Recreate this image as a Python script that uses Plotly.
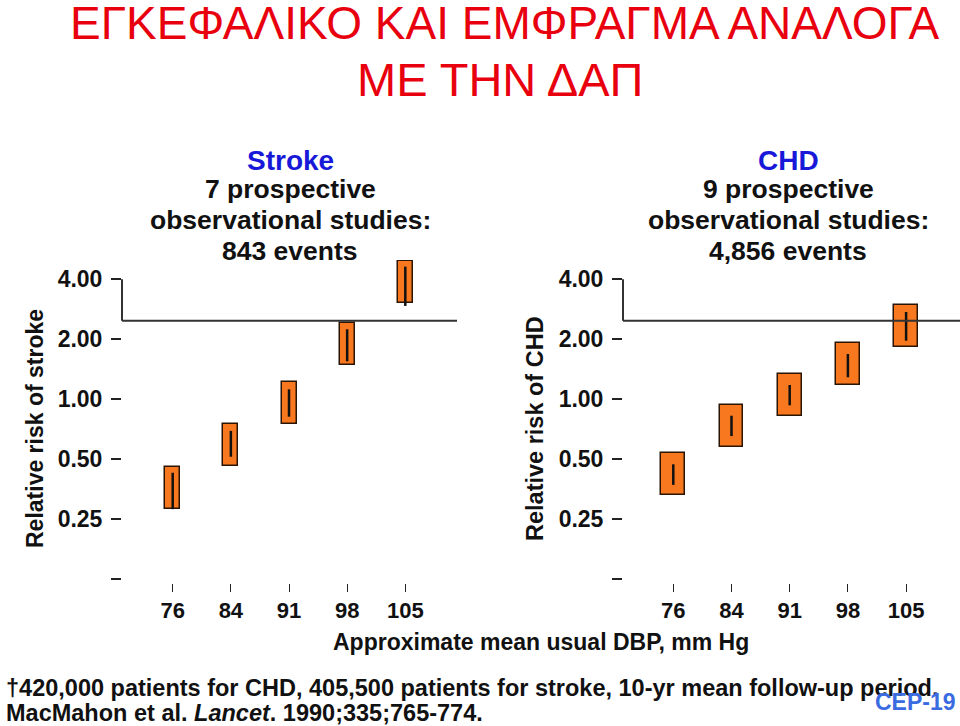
import plotly.graph_objects as go

# ---- data ----
dbp_labels = ["76", "84", "91", "98", "105"]
stroke_rr = [0.359, 0.591, 0.958, 1.888, 3.87]
stroke_lo = [0.281, 0.515, 0.818, 1.551, 2.94]
stroke_hi = [0.428, 0.694, 1.122, 2.245, 4.63]
chd_rr = [0.422, 0.732, 1.048, 1.50, 2.32]
chd_lo = [0.372, 0.654, 0.933, 1.29, 1.968]
chd_hi = [0.472, 0.827, 1.18, 1.688, 2.742]
ytick_vals = [0.125, 0.25, 0.5, 1, 2, 4]
ytick_text = ["", "0.25", "0.50", "1.00", "2.00", "4.00"]

W, H = 960, 726
def px(x):
    return x / W
def py(y):
    return 1 - y / H

FONT = "Liberation Sans, Arial, sans-serif"
ORANGE = "#F7781E"
BOX_HALF = 2 ** 0.35  # box half-height factor on log scale

fig = go.Figure()

def add_panel(rr, lo, hi, xa, ya, width):
    base = [v / BOX_HALF for v in rr]
    size = [v * BOX_HALF - v / BOX_HALF for v in rr]
    fig.add_trace(go.Bar(
        x=dbp_labels, y=size, base=base, width=width,
        marker=dict(color=ORANGE, line=dict(color="#2a1505", width=1.5)),
        xaxis=xa, yaxis=ya, showlegend=False, hoverinfo="skip"))
    xs, ys = [], []
    for c, l, h in zip(dbp_labels, lo, hi):
        xs += [c, c, None]
        ys += [l, h, None]
    fig.add_trace(go.Scatter(
        x=xs, y=ys, mode="lines", line=dict(color="#111", width=2.5),
        xaxis=xa, yaxis=ya, showlegend=False, hoverinfo="skip"))

add_panel(stroke_rr, stroke_lo, stroke_hi, "x", "y", 0.258)
add_panel(chd_rr, chd_lo, chd_hi, "x2", "y2", 0.412)

ydom = [py(583), py(260)]
yrange = [-0.9217, 0.6989]

yax = dict(type="log", range=yrange, domain=ydom, tickvals=ytick_vals,
           ticktext=["<b>%s</b>" % t if t else "" for t in ytick_text],
           ticks="outside", ticklen=10, tickwidth=1.5, tickcolor="#222",
           showline=False, showgrid=False, zeroline=False,
           tickfont=dict(family=FONT, size=23, color="#111"), ticklabelstandoff=4)
xax = dict(type="category", showline=False, showgrid=False, zeroline=False,
           ticks="outside", ticklen=8, tickwidth=1.2, tickcolor="#222",
           tickvals=dbp_labels, ticktext=["<b>%s</b>" % t for t in dbp_labels],
           tickfont=dict(family=FONT, size=22, color="#111"))

fig.update_layout(
    width=W, height=H, margin=dict(l=0, r=0, t=0, b=0),
    paper_bgcolor="white", plot_bgcolor="white",
    bargap=0,
    xaxis=dict(xax, domain=[px(122), px(457)], range=[-0.872, 4.889], anchor="y"),
    yaxis=dict(yax, anchor="x"),
    xaxis2=dict(xax, domain=[px(623), px(960)], range=[-0.864, 4.926], anchor="y2"),
    yaxis2=dict(yax, anchor="x2"),
)

# bracket lines from the 4.00 tick
for x0, x1 in [(122, 457), (623, 960)]:
    fig.add_shape(type="line", xref="paper", yref="paper",
                  x0=px(x0), x1=px(x0), y0=py(279.3), y1=py(320.7),
                  line=dict(color="#333", width=2))
    fig.add_shape(type="line", xref="paper", yref="paper",
                  x0=px(x0), x1=px(x1), y0=py(320.7), y1=py(320.7),
                  line=dict(color="#333", width=2))

def ann(text, x, y, size, color="#111", xanchor="center", angle=0):
    fig.add_annotation(text=text, x=px(x), y=py(y), xref="paper", yref="paper",
                       showarrow=False, xanchor=xanchor, yanchor="middle",
                       textangle=angle,
                       font=dict(family=FONT, size=size, color=color))

RED = "#E8000E"
ann("ΕΓΚΕΦΑΛΙΚΟ ΚΑΙ ΕΜΦΡΑΓΜΑ ΑΝΑΛΟΓΑ", 505, 23, 46, RED)
ann("ΜΕ ΤΗΝ ΔΑΠ", 500, 79, 47, RED)

BLUE = "#1818D8"
for cx, name, lines in [(290, "Stroke", ["7 prospective", "observational studies:", "843 events"]),
                        (788, "CHD", ["9 prospective", "observational studies:", "4,856 events"])]:
    ann("<b>%s</b>" % name, cx, 161, 28, BLUE)
    for yy, t in zip([189, 220, 251], lines):
        ann("<b>%s</b>" % t, cx, yy, 26.5)

ann("<b>Relative risk of stroke</b>", 35, 429, 23, angle=-90)
ann("<b>Relative risk of CHD</b>", 535, 429, 23.5, angle=-90)
ann("<b>Approximate mean usual DBP, mm Hg</b>", 541, 642, 23)
ann("<b>†420,000 patients for CHD, 405,500 patients for stroke, 10-yr mean follow-up period.</b>",
    4, 688, 23.5, xanchor="left")
ann("<b>MacMahon et al. <i>Lancet</i>. 1990;335;765-774.</b>", 4, 713, 23.5, xanchor="left")
ann("<b>CEP-19</b>", 958, 702, 23, "#3A6BE0", xanchor="right")

fig.write_html("out.html", config={"displayModeBar": False},
               post_script="document.body.style.margin='0';document.body.style.overflow='hidden';")
